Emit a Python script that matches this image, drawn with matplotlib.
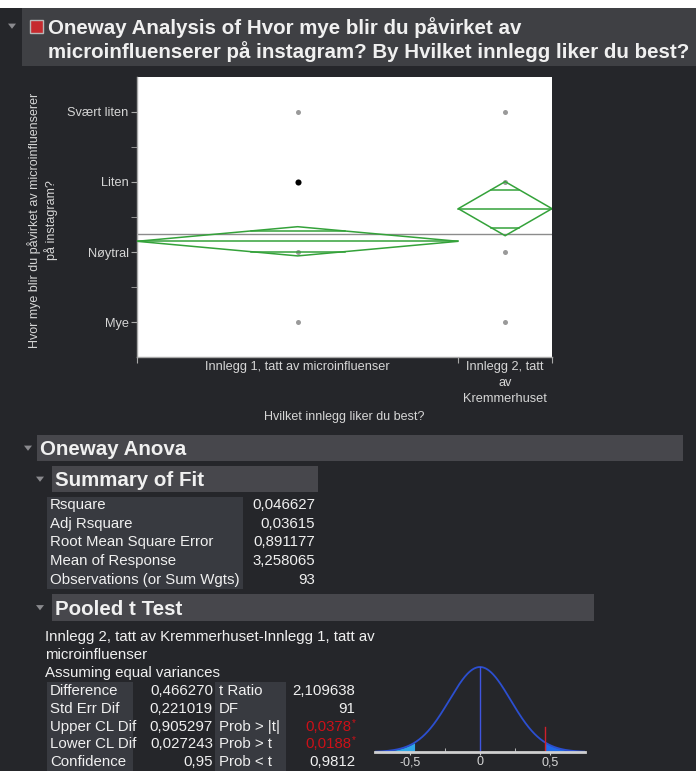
import math
import numpy as np
import matplotlib
matplotlib.use("Agg")
import matplotlib.pyplot as plt
from matplotlib.patches import Rectangle, Polygon

plt.rcParams['font.family'] = ['Liberation Sans', 'DejaVu Sans']

W, H, DPI = 696, 771, 100

# ---- data -------------------------------------------------------------
title_lines = ["Oneway Analysis of Hvor mye blir du påvirket av",
               "microinfluenserer på instagram? By Hvilket innlegg liker du best?"]
y_title = ["Hvor mye blir du påvirket av microinfluenserer", "på instagram?"]
x_title = "Hvilket innlegg liker du best?"

groups = ["Innlegg 1, tatt av microinfluenser", "Innlegg 2, tatt\nav\nKremmerhuset"]
group_n = [72, 21]
group_means = [3.152778, 3.619048]
response_levels = [2, 3, 4, 5]
response_labels = ["Mye", "Nøytral", "Liten", "Svært liten"]
points_group1 = [2, 3, 4, 5]
points_group2 = [2, 3, 4, 5]
selected_point = (0, 4)          # (group index, response level)
grand_mean = 3.258065
rmse = 0.891177
t_crit = 1.986377               # t(0.975, 91)

fit_labels = ["Rsquare", "Adj Rsquare", "Root Mean Square Error",
              "Mean of Response", "Observations (or Sum Wgts)"]
fit_values = ["0,046627", "0,03615", "0,891177", "3,258065", "93"]

ttest_caption = ["Innlegg 2, tatt av Kremmerhuset-Innlegg 1, tatt av",
                 "microinfluenser", "Assuming equal variances"]
ttest_labels = ["Difference", "Std Err Dif", "Upper CL Dif", "Lower CL Dif", "Confidence"]
ttest_values = ["0,466270", "0,221019", "0,905297", "0,027243", "0,95"]
stat_labels = ["t Ratio", "DF", "Prob > |t|", "Prob > t", "Prob < t"]
stat_values = ["2,109638", "91", "0,0378", "0,0188", "0,9812"]
stat_signif = [False, False, True, True, False]

difference = 0.466270
std_err_dif = 0.221019
dof = 91
dist_ticks = [-0.5, 0.0, 0.5]
dist_ticklabels = ["-0,5", "0", "0,5"]

# ---- colours -----------------------------------------------------------
BG = "#25262a"
BAND = "#3f4044"
SECTION = "#47474c"
CELL = "#383a40"
TXT = "#f0f0f0"
TICK_TXT = "#d6d6d6"
GREEN = "#34a23a"

fig = plt.figure(figsize=(W / DPI, H / DPI), dpi=DPI)
fig.patch.set_facecolor(BG)

# full-figure canvas in pixel units for the report frame
bg = fig.add_axes([0, 0, 1, 1])
bg.set_xlim(0, W)
bg.set_ylim(H, 0)
bg.axis("off")


def rect(x0, y0, x1, y1, color, **kw):
    bg.add_patch(Rectangle((x0, y0), x1 - x0, y1 - y0, facecolor=color,
                           edgecolor=kw.pop("ec", "none"), **kw))


def triangle(cx, cy, s=4.0):
    bg.add_patch(Polygon([[cx - s, cy - s * 0.6], [cx + s, cy - s * 0.6], [cx, cy + s * 0.7]],
                         closed=True, facecolor="#8a8a8e", edgecolor="none"))


def header(x0, x1, y0, y1, text, tri_x):
    rect(x0, y0, x1, y1, SECTION)
    triangle(tri_x, (y0 + y1) / 2)
    bg.text(x0 + 3, y1 - 6, text, fontsize=14.8, weight="bold", color=TXT, va="baseline")


# title bar
rect(0, 0, W, 8, "#ffffff")
rect(22, 8, W, 66, BAND)
triangle(12, 26)
rect(30, 20, 43, 33, "#c62a2e", ec="#b8b8b8", lw=1.0)
bg.text(48, 34, title_lines[0], fontsize=14.8, weight="bold", color=TXT, va="baseline")
bg.text(48, 58, title_lines[1], fontsize=14.8, weight="bold", color=TXT, va="baseline")

# axis titles of the oneway plot
bg.text(34, 220, y_title[0], rotation=90, fontsize=9, color=TICK_TXT, ha="center", va="center")
bg.text(51, 220, y_title[1], rotation=90, fontsize=9, color=TICK_TXT, ha="center", va="center")
bg.text(344, 417, x_title, fontsize=9, color=TICK_TXT, ha="center", va="center")

# ---- oneway plot -------------------------------------------------------
ax = fig.add_axes([137 / W, 1 - 357 / H, 415 / W, 280 / H])
ax.set_facecolor("white")
ntot = sum(group_n)
edges = np.concatenate([[0], np.cumsum(group_n)])
centers = (edges[:-1] + edges[1:]) / 2
ax.set_xlim(0, ntot)
ax.set_ylim(1.5, 5.5)

ax.axhline(grand_mean, color="#8c8c8c", lw=1.0, zorder=2)

for i, (m, n) in enumerate(zip(group_means, group_n)):
    x0, x1, xc = edges[i], edges[i + 1], centers[i]
    half = t_crit * rmse / math.sqrt(n)
    ax.add_patch(Polygon([[x0, m], [xc, m + half], [x1, m], [xc, m - half]], closed=True,
                         facecolor="none", edgecolor=GREEN, lw=1.1, zorder=4))
    ax.plot([x0, x1], [m, m], color=GREEN, lw=1.1, zorder=4)
    d = half / math.sqrt(2)
    hw = (x1 - x0) / 2 * (1 - d / half)
    for s in (1, -1):
        ax.plot([xc - hw, xc + hw], [m + s * d, m + s * d], color=GREEN, lw=1.1, zorder=4)

for gi, pts in enumerate([points_group1, points_group2]):
    for lvl in pts:
        sel = (gi, lvl) == selected_point
        ax.plot(centers[gi], lvl, "o", ms=4.4 if sel else 3.6,
                color="black" if sel else "#9a9a9a", mec="none", zorder=3)

ax.set_yticks(response_levels, response_labels)
ax.set_yticks([l + 0.5 for l in response_levels[:-1]], minor=True)
ax.set_xticks(edges)
ax.set_xticklabels([])
ax.set_xticks(centers, groups, minor=True)
ax.tick_params(axis="y", which="both", direction="out", length=4, color="#a8a8a8",
               labelcolor=TICK_TXT, labelsize=9.2, pad=2)
ax.tick_params(axis="x", which="major", direction="out", length=4, color="#a8a8a8")
ax.tick_params(axis="x", which="minor", length=0, labelcolor=TICK_TXT, labelsize=9.2, pad=3)
for lbl in ax.get_xticklabels(minor=True):
    lbl.set_linespacing(1.45)
for side in ("top", "right"):
    ax.spines[side].set_visible(False)
for side in ("left", "bottom"):
    ax.spines[side].set_color("#a8a8a8")
    ax.spines[side].set_linewidth(1.0)

# ---- Oneway Anova / Summary of Fit -------------------------------------
header(37, 683, 435, 461, "Oneway Anova", 28)
header(52, 318, 466, 492, "Summary of Fit", 40)
rect(47, 497, 243, 589, CELL)
for i, (lab, val) in enumerate(zip(fit_labels, fit_values)):
    y = 505 + 18.7 * i
    bg.text(50, y, lab, fontsize=10.8, color=TXT, va="center")
    bg.text(315, y, val, fontsize=10.8, color=TXT, va="center", ha="right")

# ---- Pooled t Test -------------------------------------------------------
header(52, 594, 594, 621, "Pooled t Test", 40)
for i, line in enumerate(ttest_caption):
    bg.text(45, 637 + 17.8 * i, line, fontsize=10.8, color=TXT, va="center")
rect(47, 682, 133, H, CELL)
rect(215, 682, 286, H, CELL)
for i in range(5):
    y = 691 + 17.8 * i
    bg.text(50, y, ttest_labels[i], fontsize=10.8, color=TXT, va="center")
    bg.text(213, y, ttest_values[i], fontsize=10.8, color=TXT, va="center", ha="right")
    bg.text(219, y, stat_labels[i], fontsize=10.8, color=TXT, va="center")
    if stat_signif[i]:
        bg.text(351, y, stat_values[i], fontsize=10.8, color="#cc1018", va="center", ha="right")
        bg.text(352, y - 4, "*", fontsize=7, color="#cc1018", va="center", ha="left")
    else:
        bg.text(355, y, stat_values[i], fontsize=10.8, color=TXT, va="center", ha="right")

# ---- t distribution of the difference -----------------------------------
dax = fig.add_axes([375 / W, 1 - 752 / H, 210 / W, 95 / H])
dax.patch.set_alpha(0)
xs = np.linspace(-0.75, 0.75, 601)
tt = xs / std_err_dif
c = math.exp(math.lgamma((dof + 1) / 2) - math.lgamma(dof / 2)) / math.sqrt(dof * math.pi)
pdf = c * (1 + tt ** 2 / dof) ** (-(dof + 1) / 2)
peak = pdf.max()
dax.set_xlim(-0.75, 0.75)
dax.set_ylim(0, peak * 95 / 85)
left = xs <= -difference
right = xs >= difference
dax.fill_between(xs[left], 0, pdf[left], color="#2fa6e6", lw=0)
dax.fill_between(xs[right], 0, pdf[right], color="#1f6ae8", lw=0)
dax.plot(xs, pdf, color="#2c4fd0", lw=1.3)
dax.plot([0, 0], [0, peak], color="#3f55e0", lw=1.0)
dax.plot([difference, difference], [0, peak * 25 / 85], color="#d0202a", lw=1.0)
dax.set_xticks(dist_ticks, dist_ticklabels)
dax.set_xticks([-0.25, 0.25], minor=True)
dax.set_yticks([])
dax.tick_params(axis="x", which="major", direction="out", length=2.5, color="#cfcfcf",
                labelcolor=TICK_TXT, labelsize=9.0, pad=0.5)
dax.tick_params(axis="x", which="minor", direction="in", length=3, color="#cfcfcf")
for side in ("top", "right", "left"):
    dax.spines[side].set_visible(False)
dax.spines["bottom"].set_color("#cfcfcf")
dax.spines["bottom"].set_linewidth(2.0)

fig.savefig("out.png", dpi=DPI, facecolor=fig.get_facecolor())
